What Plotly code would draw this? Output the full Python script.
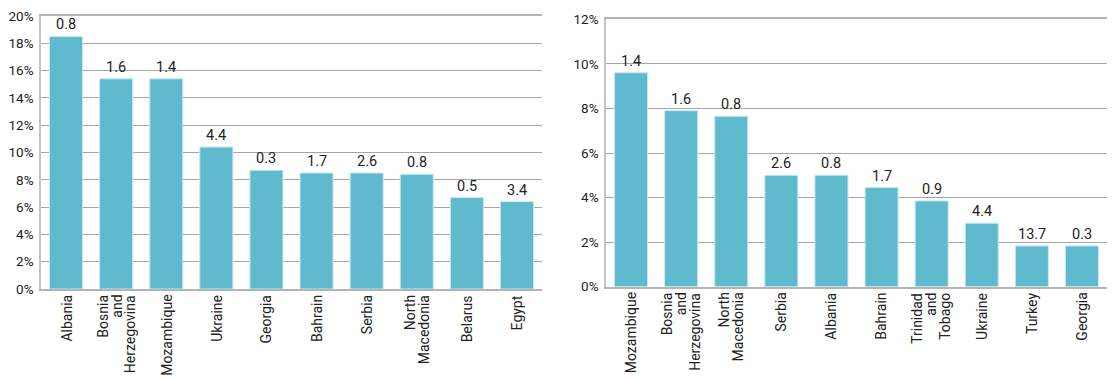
import plotly.graph_objects as go

# Left chart
left_categories = ["Albania", "Bosnia and Herzegovina", "Mozambique", "Ukraine", "Georgia",
                   "Bahrain", "Serbia", "North Macedonia", "Belarus", "Egypt"]
left_tick_lines = [["Albania"], ["Bosnia", "and", "Herzegovina"], ["Mozambique"], ["Ukraine"], ["Georgia"],
                   ["Bahrain"], ["Serbia"], ["North", "Macedonia"], ["Belarus"], ["Egypt"]]
left_values = [18.5, 15.4, 15.4, 10.4, 8.7, 8.5, 8.5, 8.4, 6.7, 6.4]
left_labels = ["0.8", "1.6", "1.4", "4.4", "0.3", "1.7", "2.6", "0.8", "0.5", "3.4"]

# Right chart
right_categories = ["Mozambique", "Bosnia and Herzegovina", "North Macedonia", "Serbia", "Albania",
                    "Bahrain", "Trinidad and Tobago", "Ukraine", "Turkey", "Georgia"]
right_tick_lines = [["Mozambique"], ["Bosnia", "and", "Herzegovina"], ["North", "Macedonia"], ["Serbia"],
                    ["Albania"], ["Bahrain"], ["Trinidad", "and", "Tobago"], ["Ukraine"], ["Turkey"], ["Georgia"]]
right_values = [9.6, 7.9, 7.65, 5.0, 5.0, 4.45, 3.85, 2.85, 1.83, 1.83]
right_labels = ["1.4", "1.6", "0.8", "2.6", "0.8", "1.7", "0.9", "4.4", "13.7", "0.3"]

left_ticks = [0, 2, 4, 6, 8, 10, 12, 14, 16, 18, 20]
right_ticks = [0, 2, 4, 6, 8, 10, 12]

BAR = "#60bacd"
FONT = "Roboto"
W, H = 1120, 380
OFF = 8  # page body margin
LINE_GAP = 14


def px(sx):
    return (sx - OFF) / W


def py(sy):
    return 1 - (sy - OFF) / H


fig = go.Figure()
annotations = []
for cats, vals, labs, lines, xa, ya, ybot in [
    (left_categories, left_values, left_labels, left_tick_lines, "x", "y", 289),
    (right_categories, right_values, right_labels, right_tick_lines, "x2", "y2", 286.7),
]:
    fig.add_trace(go.Bar(x=cats, y=vals, marker=dict(color=BAR, line=dict(color="#c8eaf1", width=1)),
                         width=0.66, xaxis=xa, yaxis=ya, showlegend=False, hoverinfo="x+y"))
    for c, v, t in zip(cats, vals, labs):
        annotations.append(dict(x=c, y=v, xref=xa, yref=ya, text=t, showarrow=False,
                                yanchor="bottom", xanchor="center", yshift=1,
                                font=dict(size=14.5, color="#222", family=FONT)))
    for c, ls in zip(cats, lines):
        n = len(ls)
        for j, line in enumerate(ls):
            annotations.append(dict(x=c, y=py(ybot + 6), xref=xa, yref="paper", text=line,
                                    showarrow=False, textangle=-90, yanchor="top", xanchor="center",
                                    xshift=(j - (n - 1) / 2) * LINE_GAP, yshift=2,
                                    font=dict(size=14, color="#222", family=FONT)))


def yax(domain, ticks, anchor):
    return dict(domain=domain, range=[0, ticks[-1]], tickvals=ticks,
                ticktext=[f"{t}%" for t in ticks], showgrid=True, gridcolor="#a6a6a6", gridwidth=1,
                showline=True, linecolor="#c4c4c4", linewidth=1.5, mirror=False, zeroline=False,
                ticks="", tickfont=dict(size=13.5, color="#222", family=FONT), anchor=anchor,
                ticklabelstandoff=3, automargin=False, fixedrange=True, ticklabeloverflow="allow")


def xax(domain, anchor):
    return dict(domain=domain, showline=True, linecolor="#b4b4b4", linewidth=1.5, mirror=True,
                showticklabels=False, ticks="", anchor=anchor, showgrid=False, automargin=False,
                fixedrange=True)


fig.update_layout(
    width=W, height=H, margin=dict(l=0, r=0, t=0, b=0),
    paper_bgcolor="white", plot_bgcolor="white",
    xaxis=xax([px(41), px(542)], "y"),
    yaxis=yax([py(289), py(16)], left_ticks, "x"),
    xaxis2=xax([px(606), px(1107)], "y2"),
    yaxis2=yax([py(286.7), py(19.3)], right_ticks, "x2"),
    annotations=annotations,
)

fig.write_html("out.html")
